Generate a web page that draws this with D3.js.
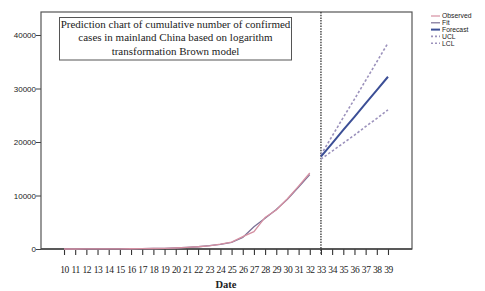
<!DOCTYPE html>
<html><head><meta charset="utf-8">
<script src="https://cdn.jsdelivr.net/npm/d3@7"></script>
<style>body{margin:0;background:#fff}svg{display:block}</style>
</head><body>
<script>
const days = d3.range(10, 33);
const observed = [2,4,8,12,20,30,45,62,90,130,190,290,420,600,900,1300,2300,3250,5900,7300,9400,11750,14200];
const fit      = [2,4,8,12,20,30,45,62,90,130,190,290,420,620,880,1250,2150,4150,5750,7400,9300,11600,13900];
const fDays = d3.range(33, 40);
const forecast = [17250,19750,22250,24700,27200,29700,32200];
const ucl      = [17600,21100,24600,28000,31500,35000,38500];
const lcl      = [16800,18300,19800,21300,22900,24400,26000];
const yTicks = [0,10000,20000,30000,40000];
const xTicks = d3.range(10, 40);
const legendLabels = ["Observed","Fit","Forecast","UCL","LCL"];
const titleLines = ["Prediction chart of cumulative number of confirmed","cases in mainland China based on logarithm","transformation Brown model"];

const W=485,H=291;
const svg=d3.select("body").append("svg").attr("width",W).attr("height",H);
const x=d3.scaleLinear().domain([7.94,41.15]).range([41,412]);
const y=d3.scaleLinear().domain([0,44300]).range([249,12]);

// frame
svg.append("rect").attr("x",41).attr("y",12).attr("width",371).attr("height",237)
  .attr("fill","none").attr("stroke","#555").attr("stroke-width",1.2);

// y axis
const ya=svg.append("g").attr("transform","translate(41,0)")
  .call(d3.axisLeft(y).tickValues(yTicks).tickSize(5).tickFormat(d3.format("d")));
ya.select(".domain").remove();
ya.selectAll("line").attr("stroke","#444");
ya.selectAll("text").attr("font-family","Liberation Sans Narrow, Arial Narrow, Liberation Sans, sans-serif")
  .attr("font-size",8).attr("fill","#222").attr("x",-5);

// x axis
const xa=svg.append("g").attr("transform","translate(0,249)")
  .call(d3.axisBottom(x).tickValues(xTicks).tickSize(6).tickPadding(11).tickFormat(d3.format("d")));
xa.select(".domain").remove();
xa.selectAll("line").attr("stroke","#333").attr("stroke-width",1.1);
xa.selectAll("text").attr("font-family","Liberation Serif, Times New Roman, serif")
  .attr("font-size",9.5).attr("fill","#222").attr("letter-spacing",-0.4);

svg.append("line").attr("x1",41).attr("x2",412).attr("y1",249).attr("y2",249).attr("stroke","#444").attr("stroke-width",1.4);

// vertical dotted line
svg.append("line").attr("x1",x(33)).attr("x2",x(33)).attr("y1",12).attr("y2",255)
  .attr("stroke","#333").attr("stroke-width",1.3).attr("stroke-dasharray","1.5,1.2");

const line=d3.line().x(d=>x(d[0])).y(d=>y(d[1]));
svg.append("path").datum(days.map((d,i)=>[d,fit[i]])).attr("d",line)
  .attr("fill","none").attr("stroke","#7a6f95").attr("stroke-width",1.3);
svg.append("path").datum(days.map((d,i)=>[d,observed[i]])).attr("d",line)
  .attr("fill","none").attr("stroke","#d590a2").attr("stroke-width",1.3);
svg.append("path").datum(fDays.map((d,i)=>[d,ucl[i]])).attr("d",line)
  .attr("fill","none").attr("stroke","#9c92bc").attr("stroke-width",1.6).attr("stroke-dasharray","2.5,2");
svg.append("path").datum(fDays.map((d,i)=>[d,lcl[i]])).attr("d",line)
  .attr("fill","none").attr("stroke","#9c92bc").attr("stroke-width",1.6).attr("stroke-dasharray","2.5,2");
svg.append("path").datum(fDays.map((d,i)=>[d,forecast[i]])).attr("d",line)
  .attr("fill","none").attr("stroke","#3c4f96").attr("stroke-width",2);

// title box
svg.append("rect").attr("x",59.5).attr("y",17.5).attr("width",232).attr("height",42.5)
  .attr("fill","#fff").attr("stroke","#555").attr("stroke-width",1);
svg.selectAll("text.tl").data(titleLines).join("text").attr("class","tl")
  .attr("x",175.5).attr("y",(d,i)=>28+i*13.3).attr("text-anchor","middle")
  .attr("font-family","Liberation Serif, Times New Roman, serif").attr("font-size",11)
  .attr("fill","#222").text(d=>d);

// x title
svg.append("text").attr("x",226).attr("y",288).attr("text-anchor","middle")
  .attr("font-family","Liberation Serif, Times New Roman, serif").attr("font-weight","bold")
  .attr("font-size",10.5).attr("fill","#222").text("Date");

// legend
const lc=["#d590a2","#7a6f95","#3c4f96","#9c92bc","#9c92bc"];
const lw=[1.2,1.2,2,1.6,1.6];
const ld=[null,null,null,"2,2","2,2"];
const lg=svg.append("g");
legendLabels.forEach((t,i)=>{
  const yy=16+i*6.8;
  lg.append("line").attr("x1",431).attr("x2",440).attr("y1",yy).attr("y2",yy)
    .attr("stroke",lc[i]).attr("stroke-width",lw[i]).attr("stroke-dasharray",ld[i]);
  lg.append("text").attr("x",442).attr("y",yy+2.4).attr("font-family","Liberation Sans, Arial, sans-serif")
    .attr("font-size",6.8).attr("fill","#222").text(t);
});
</script>
</body></html>
